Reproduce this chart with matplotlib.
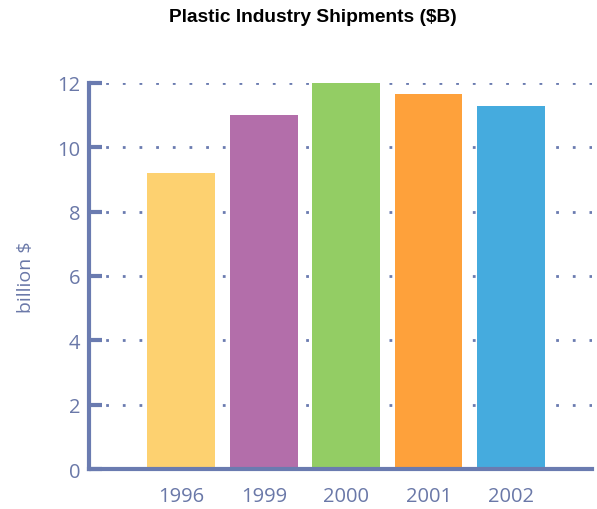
import matplotlib.pyplot as plt

years = ['1996', '1999', '2000', '2001', '2002']
shipments = [9.2, 11.0, 12.03, 11.65, 11.28]
bar_colors = ['#FDD170', '#B36EAA', '#93CD64', '#FEA13B', '#45ABDE']
yticks = [0, 2, 4, 6, 8, 10, 12]

axis_col = '#6A7BB0'
text_col = '#6A78A8'

plt.rcParams['font.family'] = ['Open Sans', 'DejaVu Sans']

fig = plt.figure(figsize=(5.97, 5.10), dpi=100)
ax = fig.add_axes([0.149, 0.0784, 0.8425, 0.757])

x = list(range(len(years)))
ax.bar(x, shipments, width=0.82, color=bar_colors, zorder=3)

ax.set_xlim(-1.12, 4.98)
ax.set_ylim(0, 12)
ax.set_yticks(yticks)
ax.set_xticks(x)
ax.set_xticklabels(years)

ax.grid(axis='y', color=axis_col, linestyle=(0, (1, 5)), linewidth=2, zorder=1)
ax.set_axisbelow(True)

for s in ['top', 'right']:
    ax.spines[s].set_visible(False)
for s in ['left', 'bottom']:
    ax.spines[s].set_color(axis_col)
    ax.spines[s].set_linewidth(3)
    ax.spines[s].set_zorder(4)

ax.tick_params(axis='y', direction='in', length=9, width=3, color=axis_col,
               labelcolor=text_col, labelsize=14.5, pad=6)
ax.tick_params(axis='x', length=0, labelcolor=text_col, labelsize=14.5, pad=12)

ax.set_ylabel('billion $', color=text_col, fontsize=14, labelpad=16)

fig.text(0.524, 0.965, 'Plastic Industry Shipments ($B)', ha='center', va='center',
         fontsize=13.8, fontweight='bold', family=['Liberation Sans', 'DejaVu Sans'])

fig.savefig('out.png', dpi=100)
